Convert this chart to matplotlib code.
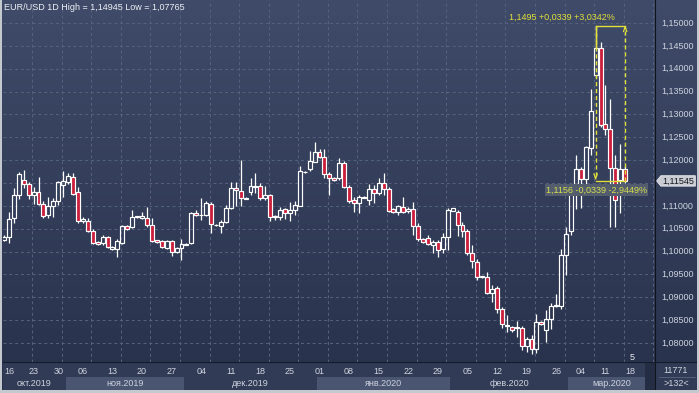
import numpy as np
import pandas as pd
import matplotlib
matplotlib.use("Agg")
import matplotlib.pyplot as plt
from matplotlib.colors import LinearSegmentedColormap
from matplotlib.patches import Rectangle, Polygon

plt.rcParams['font.family'] = ['Liberation Sans', 'DejaVu Sans']

# daily bars: weekdays, plus the short Sunday bars from 10 Nov to 23 Feb
days = pd.date_range('2019-10-15', '2020-03-17', freq='D')
sun_start, sun_end = pd.Timestamp('2019-11-10'), pd.Timestamp('2020-02-23')
dates = [d for d in days if d.weekday() < 5 or (d.weekday() == 6 and sun_start <= d <= sun_end)]

opens = [1.1025, 1.1032, 1.1073, 1.1124, 1.1156, 1.1148, 1.1124, 1.1130, 1.1104, 1.1080,
         1.1100, 1.1111, 1.1146, 1.1152, 1.1163, 1.1130, 1.1067, 1.1067, 1.1045, 1.1021,
         1.1019, 1.1032, 1.1006, 1.1006, 1.1019, 1.1056, 1.1054, 1.1075, 1.1073, 1.1073,
         1.1058, 1.1025, 1.1023, 1.1008, 1.1023, 1.0999, 1.1008, 1.1015, 1.1019, 1.1084,
         1.1079, 1.1080, 1.1104, 1.1059, 1.1056, 1.1065, 1.1095, 1.1139, 1.1132, 1.1116,
         1.1130, 1.1141, 1.1143, 1.1117, 1.1124, 1.1075, 1.1076, 1.1093, 1.1084, 1.1091,
         1.1100, 1.1173, 1.1181, 1.1196, 1.1218, 1.1207, 1.1170, 1.1161, 1.1161, 1.1194,
         1.1141, 1.1113, 1.1106, 1.1118, 1.1113, 1.1137, 1.1128, 1.1150, 1.1137, 1.1093,
         1.1086, 1.1097, 1.1089, 1.1093, 1.1056, 1.1027, 1.1030, 1.1014, 1.1021, 1.1006,
         1.1032, 1.1089, 1.1086, 1.1058, 1.1045, 1.0997, 1.0977, 1.0944, 1.0944, 1.0909,
         1.0920, 1.0874, 1.0838, 1.0835, 1.0833, 1.0833, 1.0793, 1.0809, 1.0787, 1.0846,
         1.0828, 1.0852, 1.0880, 1.0881, 1.0992, 1.1045, 1.1132, 1.1181, 1.1159, 1.1227,
         1.1386, 1.1445, 1.1279, 1.1268, 1.1183, 1.1156, 1.1181]
highs = [1.1036, 1.1086, 1.1139, 1.1174, 1.1178, 1.1152, 1.1141, 1.1163, 1.1111, 1.1119,
         1.1117, 1.1154, 1.1176, 1.1172, 1.1172, 1.1141, 1.1076, 1.1073, 1.1049, 1.1023,
         1.1036, 1.1034, 1.1012, 1.1027, 1.1058, 1.1058, 1.1091, 1.1078, 1.1086, 1.1097,
         1.1073, 1.1026, 1.1025, 1.1025, 1.1025, 1.1010, 1.1027, 1.1019, 1.1086, 1.1091,
         1.1117, 1.1111, 1.1108, 1.1060, 1.1069, 1.1102, 1.1152, 1.1152, 1.1200, 1.1119,
         1.1161, 1.1172, 1.1150, 1.1143, 1.1125, 1.1080, 1.1097, 1.1095, 1.1108, 1.1111,
         1.1187, 1.1176, 1.1220, 1.1240, 1.1224, 1.1224, 1.1174, 1.1163, 1.1205, 1.1198,
         1.1146, 1.1119, 1.1124, 1.1121, 1.1148, 1.1146, 1.1161, 1.1172, 1.1141, 1.1095,
         1.1102, 1.1119, 1.1097, 1.1108, 1.1062, 1.1030, 1.1036, 1.1025, 1.1025, 1.1040,
         1.1095, 1.1096, 1.1091, 1.1065, 1.1049, 1.1014, 1.0984, 1.0946, 1.0955, 1.0927,
         1.0925, 1.0879, 1.0861, 1.0837, 1.0848, 1.0837, 1.0813, 1.0817, 1.0863, 1.0848,
         1.0872, 1.0887, 1.0907, 1.1006, 1.1054, 1.1141, 1.1211, 1.1185, 1.1231, 1.1356,
         1.14945, 1.1458, 1.1364, 1.1334, 1.1211, 1.1235, 1.1187]
lows = [1.1023, 1.1019, 1.1062, 1.1115, 1.1139, 1.1115, 1.1104, 1.1102, 1.1073, 1.1073,
        1.1076, 1.1102, 1.1119, 1.1148, 1.1124, 1.1062, 1.1062, 1.1043, 1.1016, 1.1014,
        1.1014, 1.1008, 1.1003, 1.0988, 1.1016, 1.1047, 1.1051, 1.1073, 1.1071, 1.1054,
        1.1021, 1.1019, 1.1008, 1.1006, 1.0990, 1.0997, 1.0981, 1.1014, 1.1016, 1.1078,
        1.1069, 1.1078, 1.1040, 1.1056, 1.1040, 1.1062, 1.1093, 1.1100, 1.1100, 1.1115,
        1.1124, 1.1128, 1.1113, 1.1113, 1.1067, 1.1069, 1.1069, 1.1071, 1.1067, 1.1080,
        1.1099, 1.1172, 1.1176, 1.1195, 1.1205, 1.1161, 1.1124, 1.1154, 1.1156, 1.1139,
        1.1106, 1.1086, 1.1084, 1.1117, 1.1102, 1.1106, 1.1124, 1.1124, 1.1086, 1.1084,
        1.1080, 1.1084, 1.1084, 1.1036, 1.1023, 1.1019, 1.1014, 1.0997, 1.0988, 1.0997,
        1.1003, 1.1088, 1.1034, 1.1032, 1.0992, 1.0964, 1.0938, 1.0942, 1.0907, 1.0890,
        1.0866, 1.0833, 1.0824, 1.0824, 1.0813, 1.0785, 1.0780, 1.07765, 1.0777, 1.0839,
        1.0802, 1.0830, 1.0879, 1.0874, 1.0949, 1.1036, 1.1093, 1.1095, 1.1139, 1.1211,
        1.1380, 1.1272, 1.1255, 1.1054, 1.1054, 1.1084, 1.1150]
closes = [1.1032, 1.1071, 1.1124, 1.1170, 1.1148, 1.1124, 1.1130, 1.1104, 1.1078, 1.1100,
          1.1111, 1.1152, 1.1154, 1.1165, 1.1126, 1.1067, 1.1071, 1.1045, 1.1019, 1.1016,
          1.1032, 1.1010, 1.1010, 1.1023, 1.1056, 1.1049, 1.1076, 1.1077, 1.1078, 1.1058,
          1.1023, 1.1021, 1.1010, 1.1023, 1.0999, 1.1008, 1.1016, 1.1017, 1.1084, 1.1080,
          1.1081, 1.1106, 1.1060, 1.1057, 1.1065, 1.1095, 1.1139, 1.1135, 1.1117, 1.1118,
          1.1143, 1.1144, 1.1117, 1.1124, 1.1076, 1.1077, 1.1091, 1.1084, 1.1091, 1.1102,
          1.1176, 1.1175, 1.1198, 1.1218, 1.1207, 1.1170, 1.1161, 1.1156, 1.1194, 1.1141,
          1.1111, 1.1106, 1.1119, 1.1120, 1.1137, 1.1128, 1.1150, 1.1137, 1.1089, 1.1086,
          1.1100, 1.1086, 1.1093, 1.1056, 1.1027, 1.1021, 1.1016, 1.1021, 1.1003, 1.1032,
          1.1091, 1.1095, 1.1058, 1.1045, 1.0997, 1.0979, 1.0944, 1.0946, 1.0909, 1.0918,
          1.0874, 1.0841, 1.0840, 1.0828, 1.0835, 1.0793, 1.0809, 1.0787, 1.0846, 1.0841,
          1.0852, 1.0881, 1.0882, 1.0992, 1.1038, 1.1132, 1.1181, 1.1159, 1.1229, 1.1307,
          1.1445, 1.1277, 1.1268, 1.1183, 1.1113, 1.1181, 1.11545]

price_ticks = [1.080, 1.085, 1.090, 1.095, 1.100, 1.105, 1.110, 1.115, 1.120, 1.125,
               1.130, 1.135, 1.140, 1.145, 1.150]
month_names = {10: 'окт.2019', 11: 'ноя.2019', 12: 'дек.2019', 1: 'янв.2020', 2: 'фев.2020', 3: 'мар.2020'}
last_price = closes[-1]
ruler_from, ruler_to = 120, 126          # bars the yellow ruler was drawn between
ruler_top_text = '1,1495 +0,0339 +3,0342%'
ruler_bottom_text = '1,1156 -0,0339 -2,9449%'
bar_count_text = '11771'
visible_text = '>132<'

W, H = 699, 393
BAR_PX, X0_PX, PX_PER_UNIT = 4.93, 4.0, 4571.0
BG_BOTTOM, BG_TOP = '#28314b', '#3f4b69'
GRID = '#56627e'
RED = '#cc1f3d'
YELLOW = '#e2e03a'
LABEL = '#cdd3df'


def px_box(x0, y0, x1, y1):
    return [x0 / W, 1 - y1 / H, (x1 - x0) / W, (y1 - y0) / H]


def fmt(v, n=5):
    return f"{v:.{n}f}".replace('.', ',')


def draw_candles(ax):
    for i, (o, h, l, c) in enumerate(zip(opens, highs, lows, closes)):
        lo, hi = min(o, c), max(o, c)
        if hi - lo < 0.00006:
            hi = lo + 0.00006
        ax.vlines(i, hi, h, color='white', lw=0.9, zorder=3)
        ax.vlines(i, l, lo, color='white', lw=0.9, zorder=3)
        face = RED if c < o else 'none'
        ax.add_patch(Rectangle((i - 0.4, lo), 0.8, hi - lo, facecolor=face,
                               edgecolor='white', lw=0.85, zorder=4))


def draw_ruler(ax):
    top = highs[ruler_from]
    bottom = last_price
    xl, xr = ruler_from, ruler_to
    dy = 5 / PX_PER_UNIT
    dx = 1.6 / BAR_PX
    ax.plot([xl, xr], [top, top], color=YELLOW, lw=1, zorder=6)
    ax.plot([xl, xr], [bottom, bottom], color=YELLOW, lw=1, zorder=6)
    ax.plot([xl, xl], [top, max(opens[xl], closes[xl])], color=YELLOW, lw=1, zorder=6)
    ax.plot([xl, xl], [top, bottom + 2 / PX_PER_UNIT], color=YELLOW, lw=1,
            ls=(0, (3, 2)), zorder=6)
    ax.plot([xr, xr], [bottom, top - 1 / PX_PER_UNIT], color=YELLOW, lw=1,
            ls=(0, (3, 2)), zorder=6)
    tip = bottom + 2 / PX_PER_UNIT
    ax.plot([xl - dx, xl, xl + dx], [tip + dy, tip, tip + dy], color=YELLOW, lw=0.9, zorder=6)
    tip = top - 1 / PX_PER_UNIT
    ax.plot([xr - dx, xr, xr + dx], [tip - dy, tip, tip - dy], color=YELLOW, lw=0.9, zorder=6)
    ax.annotate(ruler_top_text, xy=(xr, top), xytext=(-10, 8), textcoords='offset pixels',
                ha='right', va='center', color=YELLOW, fontsize=6.5, zorder=7)
    ax.annotate(ruler_bottom_text, xy=(xr, bottom), xytext=(22, -9), textcoords='offset pixels',
                ha='right', va='center', color='#d6e04c', fontsize=6.5, zorder=7,
                bbox=dict(boxstyle='square,pad=0.12', fc='#535d6e', ec='none'))


def main():
    axis_dates = dates + [pd.Timestamp('2020-03-18')]
    xlim = ((3 - X0_PX) / BAR_PX, (655 - X0_PX) / BAR_PX)
    ylim = (1.15 - (362 - 23) / PX_PER_UNIT, 1.15 + 23 / PX_PER_UNIT)

    fig = plt.figure(figsize=(W / 100, H / 100), dpi=100, facecolor='#c4c8cf')

    bg = fig.add_axes(px_box(2, 0, 697, 390))
    bg.axis('off')
    cmap = LinearSegmentedColormap.from_list('bg', [BG_BOTTOM, BG_TOP])
    bg.imshow(np.linspace(0, 1, 256).reshape(-1, 1), aspect='auto', cmap=cmap,
              origin='lower', extent=[0, 1, 0, 1])

    # price chart
    ax = fig.add_axes(px_box(3, 0, 655, 362))
    ax.set_facecolor('none')
    ax.set_xlim(*xlim)
    ax.set_ylim(*ylim)
    ax.set_xticks([])
    ax.set_yticks([])
    for s in ax.spines.values():
        s.set_visible(False)
    for p in price_ticks:
        ax.axhline(p, color=GRID, lw=0.7, ls=(0, (3, 3)), zorder=1)
    for gx in np.arange(5.7, xlim[1], 6):
        ax.axvline(gx, color=GRID, lw=0.7, ls=(0, (3, 3)), zorder=1)
    draw_candles(ax)
    draw_ruler(ax)
    ax.text(0.002, 1 - 7 / 362, f"EUR/USD 1D High = {fmt(max(highs))} Low = {fmt(min(lows))}",
            transform=ax.transAxes, ha='left', va='center', color='#eef0f4', fontsize=6.5)
    ax.text((632 - 3) / 652, (362 - 357) / 362, '5', transform=ax.transAxes,
            ha='center', va='center', color='#e8ecf2', fontsize=6.5)

    # time axis
    ax2 = fig.add_axes(px_box(3, 362, 655, 390))
    ax2.set_facecolor('#323b55')
    ax2.set_xlim(*xlim)
    ax2.set_ylim(0, 1)
    ax2.set_xticks([])
    ax2.set_yticks([])
    for s in ax2.spines.values():
        s.set_visible(False)
    ax2.axhline(1, color='#141a29', lw=1.5)
    starts = [0] + [i for i in range(1, len(axis_dates)) if axis_dates[i].month != axis_dates[i - 1].month]
    edges = [xlim[0]] + [s - 0.5 for s in starts[1:]] + [xlim[1]]
    for k in range(len(starts)):
        left, right = edges[k], edges[k + 1]
        if k % 2 == 1:
            ax2.add_patch(Rectangle((left, 0), right - left, 0.47, fc='#4a5571', ec='none'))
        ax2.text((left + right) / 2, 0.25, month_names[axis_dates[starts[k]].month],
                 ha='center', va='center', color=LABEL, fontsize=6.5)
    for i, d in enumerate(axis_dates):
        if d.weekday() == 2:
            ax2.text(i, 0.67, d.strftime('%d'), ha='center', va='center', color=LABEL, fontsize=6.5)
    ax2.add_patch(Rectangle(((645 - X0_PX) / BAR_PX, 0), xlim[1], 1, fc='#252d44', ec='none'))

    # price scale; the tick label under the current-price box is hidden
    ax3 = fig.add_axes(px_box(655, 0, 697, 362))
    ax3.set_facecolor('none')
    ax3.set_xlim(0, 1)
    ax3.set_ylim(*ylim)
    ax3.set_xticks([])
    ax3.set_yticks([])
    for s in ax3.spines.values():
        s.set_visible(False)
    ax3.axvline(0, color='#0f131c', lw=1.5)
    h = 5.2 / PX_PER_UNIT
    for p in price_ticks:
        if abs(p - last_price) < 2.2 * h:
            continue
        ax3.text(0.14, p, fmt(p), ha='left', va='center', color=LABEL, fontsize=6.5)
    ax3.add_patch(Polygon([(0.04, last_price), (0.14, last_price + h), (0.96, last_price + h),
                           (0.96, last_price - h), (0.14, last_price - h)],
                          closed=True, fc='#c9ccd2', ec='#eceef2', lw=0.6, zorder=5))
    ax3.text(0.17, last_price, fmt(last_price), ha='left', va='center', color='#15181f',
             fontsize=6.5, zorder=6)

    ax4 = fig.add_axes(px_box(655, 362, 697, 390))
    ax4.set_facecolor('#323b55')
    ax4.set_xlim(0, 1)
    ax4.set_ylim(0, 1)
    ax4.set_xticks([])
    ax4.set_yticks([])
    for s in ax4.spines.values():
        s.set_visible(False)
    ax4.axvline(0, color='#0f131c', lw=1.5)
    ax4.axhline(1, color='#141a29', lw=1.5)
    ax4.axhline(0.46, xmin=0.1, xmax=0.95, color='#5c6680', lw=0.6)
    ax4.text(0.5, 0.7, bar_count_text, ha='center', va='center', color=LABEL, fontsize=6.5)
    ax4.text(0.5, 0.24, visible_text, ha='center', va='center', color=LABEL, fontsize=6.5)

    fig.savefig('out.png', dpi=100, facecolor=fig.get_facecolor())


if __name__ == "__main__":
    main()
